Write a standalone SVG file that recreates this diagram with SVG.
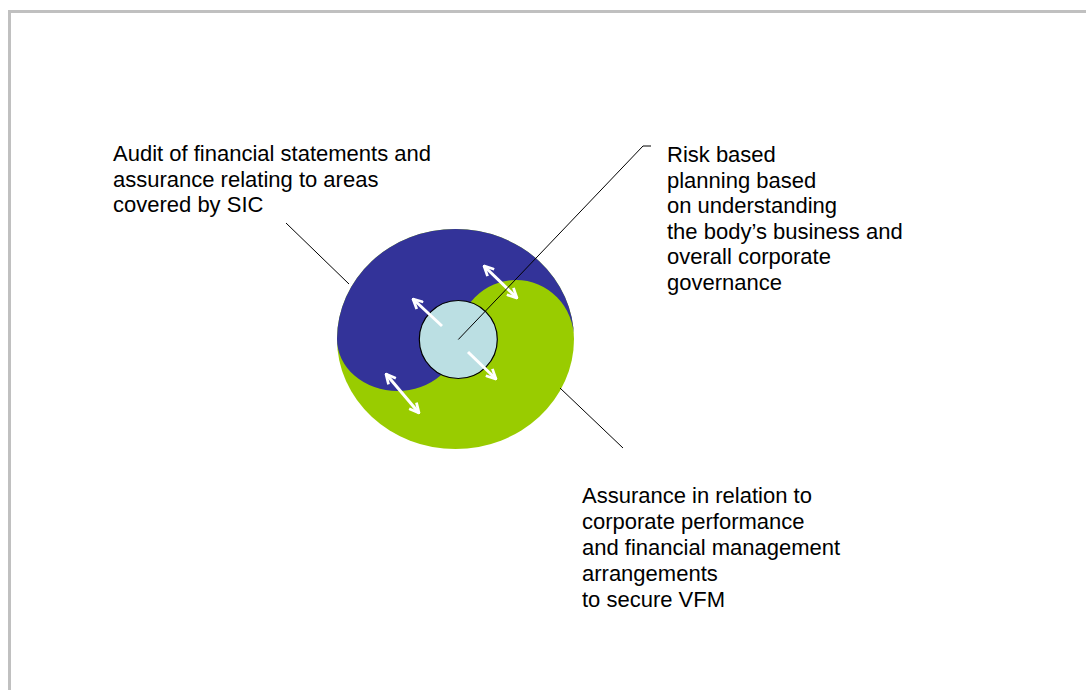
<svg xmlns="http://www.w3.org/2000/svg" width="1086" height="690" viewBox="0 0 1086 690">
  <style>
    .lbl { font-family: "Liberation Sans", Arial, sans-serif; font-size: 22px; fill: #000000; }
    .leader { stroke: #000000; stroke-width: 1; fill: none; }
    .warrow { stroke: #ffffff; stroke-width: 3; fill: none; }
  </style>
  <defs>
    <marker id="wHead" viewBox="0 0 10 10" markerWidth="12" markerHeight="12" refX="9" refY="5" orient="auto-start-reverse" markerUnits="userSpaceOnUse">
      <path d="M1,1 L9,5 L1,9" fill="none" stroke="#ffffff" stroke-width="2.3" stroke-linejoin="miter"/>
    </marker>
  </defs>
  <rect width="1086" height="690" fill="#ffffff"/>
  <rect x="9.5" y="11.5" width="1100" height="700" fill="none" stroke="#c0c0c0" stroke-width="3"/>

  <g id="node-outer">
    <ellipse cx="455.5" cy="339" rx="118.5" ry="110" fill="#99cc00"/>
    <path d="M337,339 A118.5,110 0 0 1 574,339 A58,59 0 0 0 458,339 A60.5,52 0 0 1 337,339 Z" fill="#333399"/>
  </g>
  <g id="node-centre">
    <circle cx="458.3" cy="339.5" r="39" fill="#bbdfe3" stroke="#000000" stroke-width="1.2"/>
  </g>

  <g id="connectors">
    <line class="warrow" x1="484" y1="266" x2="517" y2="298" marker-start="url(#wHead)" marker-end="url(#wHead)"/>
    <line class="warrow" x1="442" y1="326" x2="413" y2="299" marker-end="url(#wHead)"/>
    <line class="warrow" x1="468" y1="352" x2="496" y2="379" marker-end="url(#wHead)"/>
    <line class="warrow" x1="386" y1="374" x2="419" y2="413" marker-start="url(#wHead)" marker-end="url(#wHead)"/>
    <line class="leader" x1="286" y1="223" x2="349" y2="284"/>
    <polyline class="leader" points="458.3,339.5 643,146 651,146"/>
    <line class="leader" x1="560" y1="388" x2="623" y2="448"/>
  </g>

  <g id="label-audit">
    <text class="lbl" x="113" y="161">Audit of financial statements and</text>
    <text class="lbl" x="113" y="186.5">assurance relating to areas</text>
    <text class="lbl" x="113" y="212">covered by SIC</text>
  </g>
  <g id="label-risk">
    <text class="lbl" x="667" y="162">Risk based</text>
    <text class="lbl" x="667" y="187.5">planning based</text>
    <text class="lbl" x="667" y="213">on understanding</text>
    <text class="lbl" x="667" y="238.5">the body’s business and</text>
    <text class="lbl" x="667" y="264">overall corporate</text>
    <text class="lbl" x="667" y="289.5">governance</text>
  </g>
  <g id="label-assurance">
    <text class="lbl" x="582" y="502.5">Assurance in relation to</text>
    <text class="lbl" x="582" y="528.5">corporate performance</text>
    <text class="lbl" x="582" y="554.5">and financial management</text>
    <text class="lbl" x="582" y="580.5">arrangements</text>
    <text class="lbl" x="582" y="606.5">to secure VFM</text>
  </g>
</svg>
